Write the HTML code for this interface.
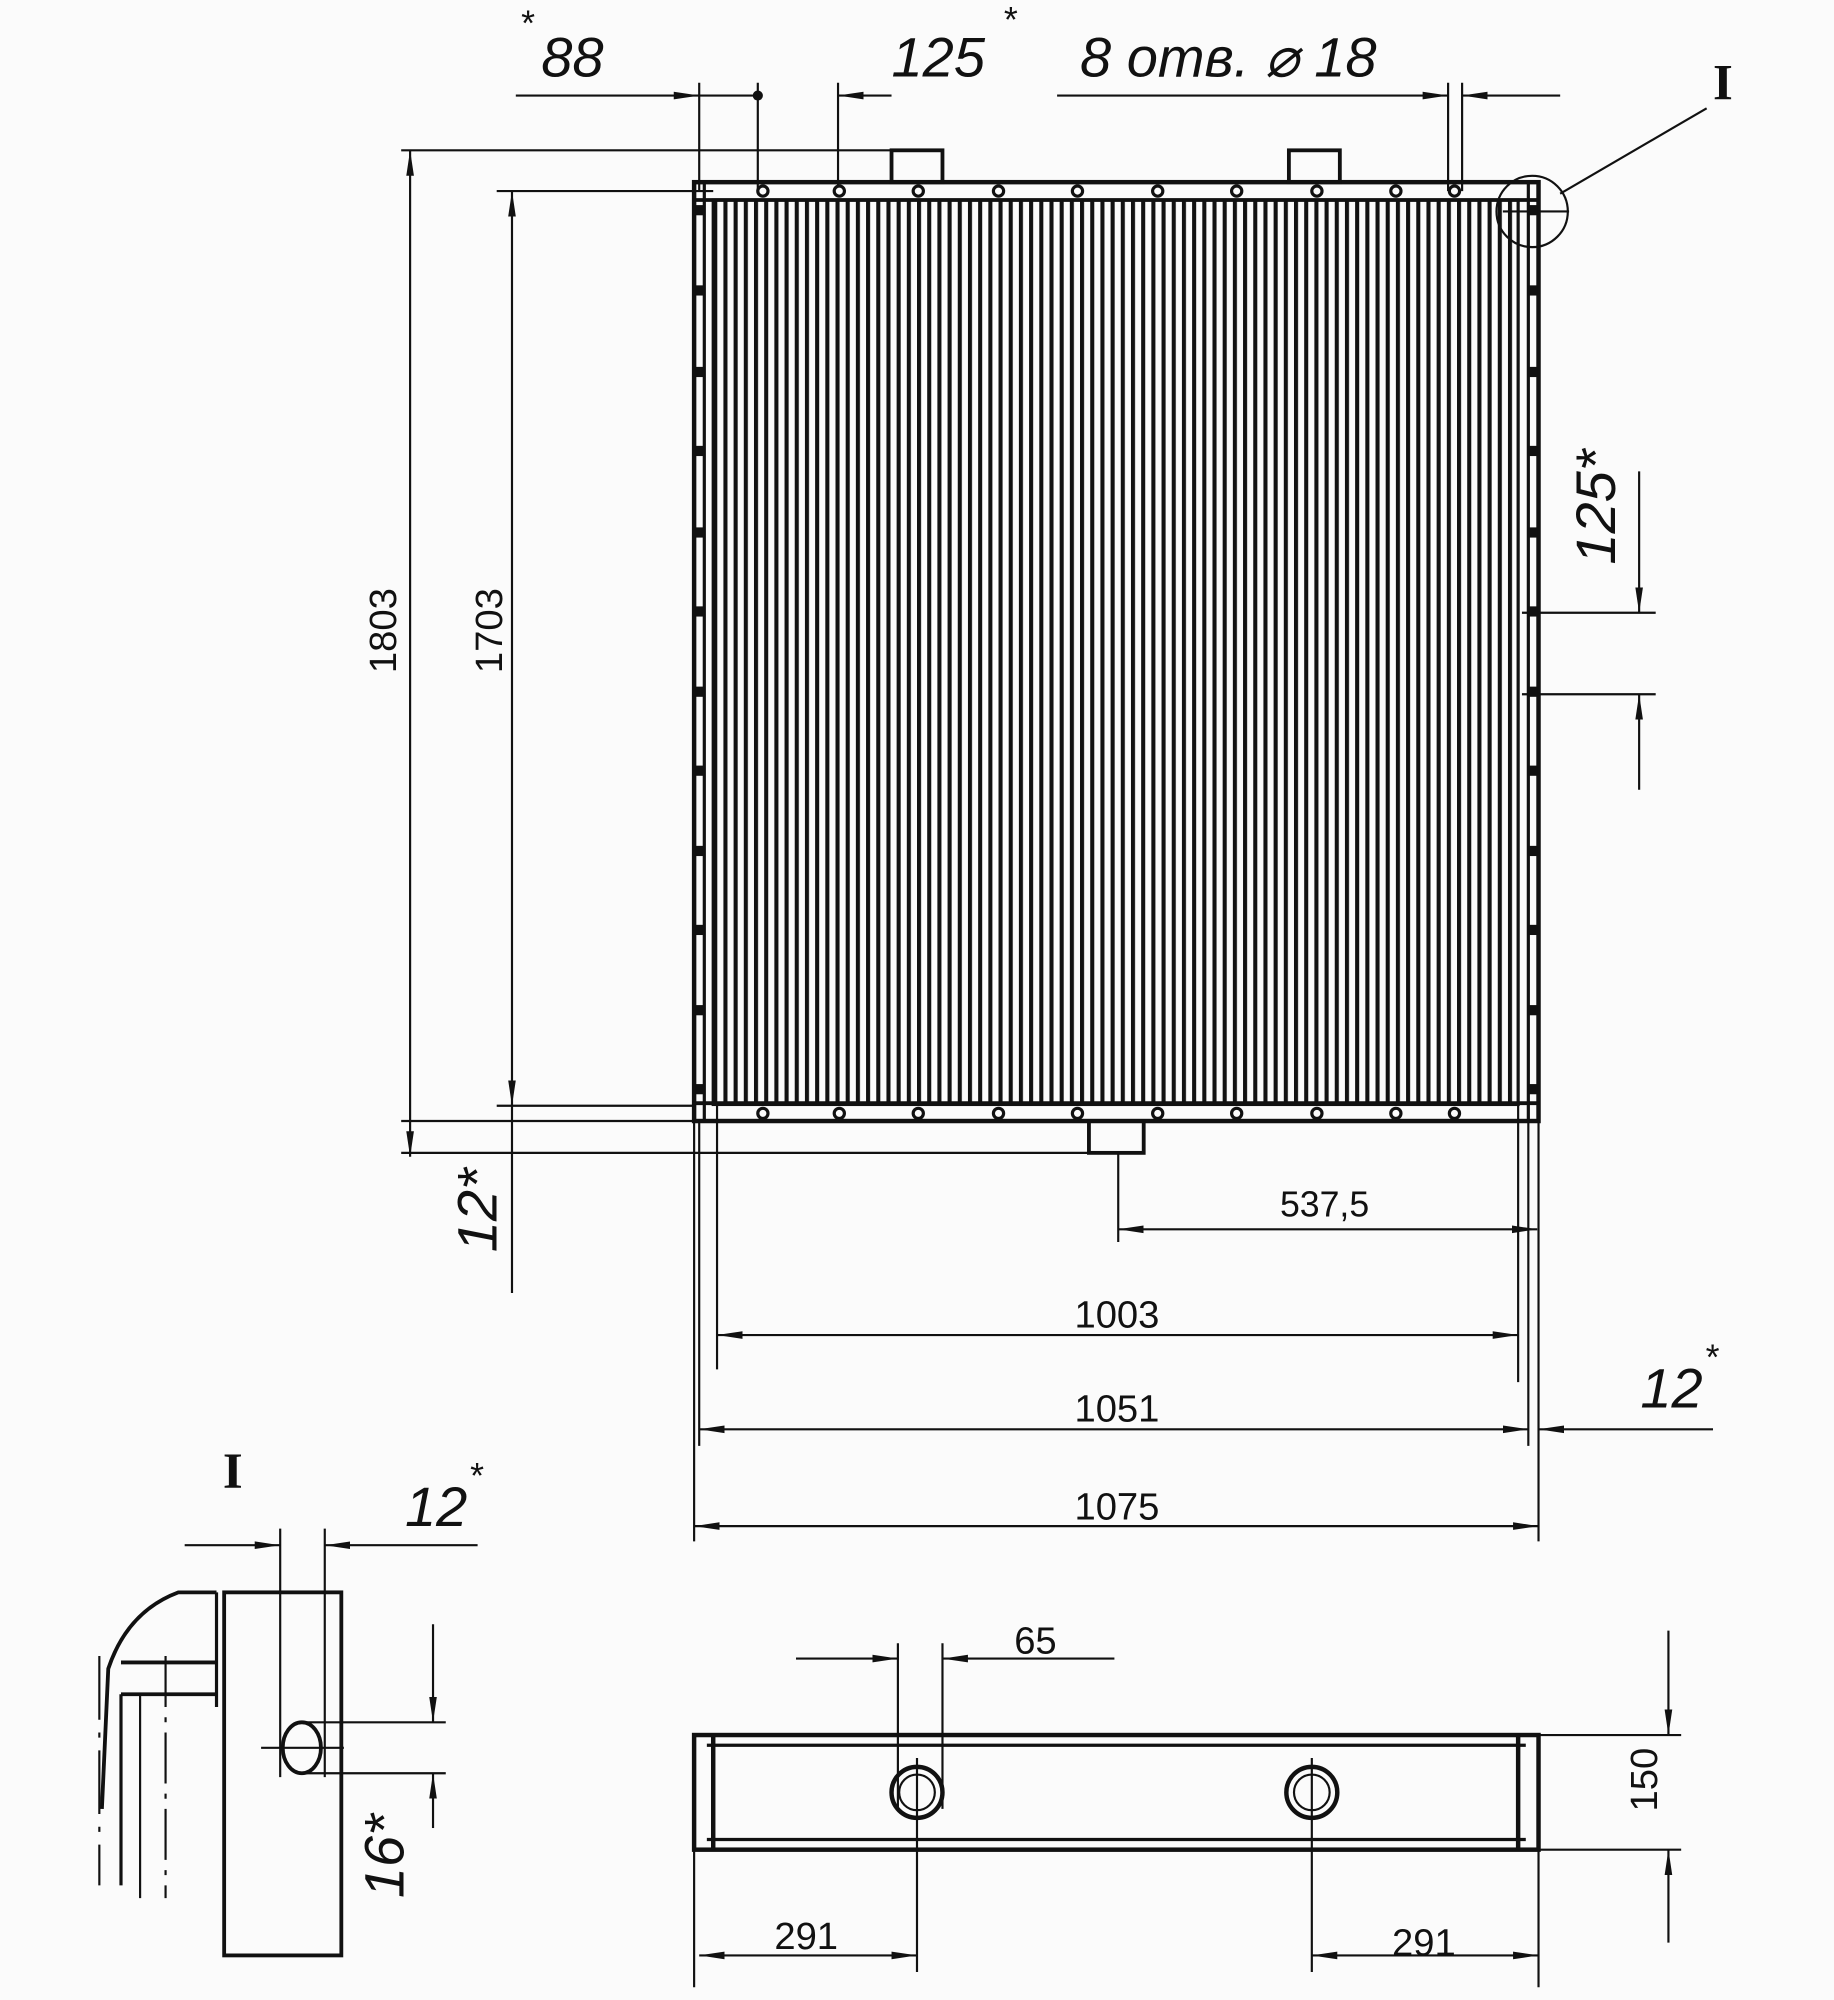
<!DOCTYPE html>
<html><head><meta charset="utf-8"><style>
html,body{margin:0;padding:0;background:#fbfbfb;}
svg{display:block}
text{font-family:"Liberation Sans",sans-serif;fill:#111}
.it{font-style:italic}
</style></head><body>
<svg width="1834" height="2000" viewBox="0 0 1440 1570" preserveAspectRatio="none" xmlns="http://www.w3.org/2000/svg">
<defs>
<pattern id="fins" x="560" y="0" width="8" height="10" patternUnits="userSpaceOnUse">
<rect x="0" y="0" width="3.2" height="10" fill="#111"/>
</pattern>
<marker id="a" viewBox="0 0 20 8" refX="20" refY="4" markerWidth="20" markerHeight="8" orient="auto-start-reverse" markerUnits="userSpaceOnUse">
<path d="M0,1 L20,4 L0,7 z" fill="#111"/>
</marker>
</defs>
<rect width="1440" height="1570" fill="#fbfbfb"/>
<g stroke="#111" fill="none" stroke-width="1.7">
<rect x="545" y="143" width="663" height="737" stroke-width="3.5"/>
<rect x="560" y="157" width="632" height="710" fill="url(#fins)" stroke-width="2.5"/>
<line x1="545" y1="157" x2="1208" y2="157" stroke-width="3"/>
<line x1="545" y1="866" x2="1208" y2="866" stroke-width="3"/>
<line x1="553" y1="143" x2="553" y2="880" stroke-width="2.5"/>
<line x1="1200" y1="143" x2="1200" y2="880" stroke-width="2.5"/>
<rect x="700" y="118" width="40" height="25" stroke-width="3"/>
<rect x="1012" y="118" width="40" height="25" stroke-width="3"/>
<rect x="855" y="880" width="43" height="25" stroke-width="3"/>
<circle cx="1203" cy="166" r="28"/>
<line x1="1225" y1="152" x2="1340" y2="85"/>
<line x1="1180" y1="166" x2="1232" y2="166"/>
<line x1="405" y1="75" x2="549" y2="75" marker-end="url(#a)"/>
<line x1="549" y1="75" x2="595" y2="75"/>
<line x1="658" y1="75" x2="700" y2="75" marker-start="url(#a)"/>
<line x1="830" y1="75" x2="1137" y2="75" marker-end="url(#a)"/>
<line x1="1148" y1="75" x2="1225" y2="75" marker-start="url(#a)"/>
<line x1="549" y1="65" x2="549" y2="150"/>
<line x1="595" y1="65" x2="595" y2="150"/>
<line x1="658" y1="65" x2="658" y2="150"/>
<line x1="1137" y1="65" x2="1137" y2="150"/>
<line x1="1148" y1="65" x2="1148" y2="150"/>
<line x1="315" y1="118" x2="740" y2="118"/>
<line x1="390" y1="150" x2="560" y2="150"/>
<line x1="390" y1="868" x2="545" y2="868"/>
<line x1="315" y1="880" x2="545" y2="880"/>
<line x1="315" y1="905" x2="860" y2="905"/>
<line x1="322" y1="118" x2="322" y2="908" marker-start="url(#a)" marker-end="url(#a)"/>
<line x1="402" y1="150" x2="402" y2="868" marker-start="url(#a)" marker-end="url(#a)"/>
<line x1="402" y1="868" x2="402" y2="1015"/>
<line x1="1195" y1="481" x2="1300" y2="481"/>
<line x1="1195" y1="545" x2="1300" y2="545"/>
<line x1="1287" y1="370" x2="1287" y2="481" marker-end="url(#a)"/>
<line x1="1287" y1="620" x2="1287" y2="545" marker-end="url(#a)"/>
<line x1="545" y1="880" x2="545" y2="1210"/>
<line x1="549" y1="880" x2="549" y2="1135"/>
<line x1="563" y1="866" x2="563" y2="1075"/>
<line x1="1192" y1="866" x2="1192" y2="1085"/>
<line x1="1200" y1="880" x2="1200" y2="1135"/>
<line x1="1208" y1="880" x2="1208" y2="1210"/>
<line x1="878" y1="905" x2="878" y2="975"/>
<line x1="878" y1="965" x2="1207" y2="965" marker-start="url(#a)" marker-end="url(#a)"/>
<line x1="563" y1="1048" x2="1192" y2="1048" marker-start="url(#a)" marker-end="url(#a)"/>
<line x1="549" y1="1122" x2="1200" y2="1122" marker-start="url(#a)" marker-end="url(#a)"/>
<line x1="1345" y1="1122" x2="1208" y2="1122" marker-end="url(#a)"/>
<line x1="545" y1="1198" x2="1208" y2="1198" marker-start="url(#a)" marker-end="url(#a)"/>
<rect x="545" y="1362" width="663" height="90" stroke-width="3.5"/>
<line x1="555" y1="1370" x2="1198" y2="1370" stroke-width="2.5"/>
<line x1="555" y1="1444" x2="1198" y2="1444" stroke-width="2.5"/>
<line x1="560" y1="1362" x2="560" y2="1452" stroke-width="3.5"/>
<line x1="1192" y1="1362" x2="1192" y2="1452" stroke-width="3.5"/>
<circle cx="720" cy="1407" r="20" stroke-width="3.5"/>
<circle cx="720" cy="1407" r="14"/>
<circle cx="1030" cy="1407" r="20" stroke-width="3.5"/>
<circle cx="1030" cy="1407" r="14"/>
<line x1="705" y1="1290" x2="705" y2="1420"/>
<line x1="740" y1="1290" x2="740" y2="1420"/>
<line x1="625" y1="1302" x2="705" y2="1302" marker-end="url(#a)"/>
<line x1="875" y1="1302" x2="740" y2="1302" marker-end="url(#a)"/>
<line x1="1208" y1="1362" x2="1320" y2="1362"/>
<line x1="1208" y1="1452" x2="1320" y2="1452"/>
<line x1="1310" y1="1280" x2="1310" y2="1362" marker-end="url(#a)"/>
<line x1="1310" y1="1525" x2="1310" y2="1452" marker-end="url(#a)"/>
<line x1="545" y1="1452" x2="545" y2="1560"/>
<line x1="720" y1="1380" x2="720" y2="1548"/>
<line x1="1030" y1="1380" x2="1030" y2="1548"/>
<line x1="1208" y1="1452" x2="1208" y2="1560"/>
<line x1="549" y1="1535" x2="720" y2="1535" marker-start="url(#a)" marker-end="url(#a)"/>
<line x1="1030" y1="1535" x2="1208" y2="1535" marker-start="url(#a)" marker-end="url(#a)"/>
<rect x="176" y="1250" width="92" height="285" stroke-width="3"/>
<line x1="170" y1="1250" x2="170" y2="1340" stroke-width="2.5"/>
<path d="M170,1250 L140,1250 Q100,1265 85,1310 L80,1420" stroke-width="3"/>
<line x1="95" y1="1305" x2="170" y2="1305" stroke-width="3"/>
<line x1="95" y1="1330" x2="170" y2="1330" stroke-width="3"/>
<line x1="95" y1="1330" x2="95" y2="1480" stroke-width="2.5"/>
<line x1="130" y1="1300" x2="130" y2="1490" stroke-dasharray="40,8,4,8"/>
<line x1="78" y1="1300" x2="78" y2="1480" stroke-dasharray="50,10,4,10"/>
<line x1="110" y1="1330" x2="110" y2="1490"/>
<ellipse cx="237" cy="1372" rx="15" ry="20" stroke-width="3"/>
<line x1="205" y1="1372" x2="270" y2="1372"/>
<line x1="220" y1="1200" x2="220" y2="1395"/>
<line x1="255" y1="1200" x2="255" y2="1395"/>
<line x1="145" y1="1213" x2="220" y2="1213" marker-end="url(#a)"/>
<line x1="375" y1="1213" x2="255" y2="1213" marker-end="url(#a)"/>
<line x1="240" y1="1352" x2="350" y2="1352"/>
<line x1="240" y1="1392" x2="350" y2="1392"/>
<line x1="340" y1="1275" x2="340" y2="1352" marker-end="url(#a)"/>
<line x1="340" y1="1435" x2="340" y2="1392" marker-end="url(#a)"/>
</g>
<g fill="#111">
<circle cx="595" cy="75" r="4"/>
<g id="lh">
<rect x="546" y="224" width="7" height="8"/><rect x="546" y="288" width="7" height="8"/><rect x="546" y="350" width="7" height="8"/><rect x="546" y="414" width="7" height="8"/><rect x="546" y="476" width="7" height="8"/><rect x="546" y="539" width="7" height="8"/><rect x="546" y="601" width="7" height="8"/><rect x="546" y="664" width="7" height="8"/><rect x="546" y="726" width="7" height="8"/><rect x="546" y="789" width="7" height="8"/><rect x="546" y="851" width="7" height="8"/><rect x="546" y="161" width="7" height="8"/>
</g>
<use href="#lh" x="654"/>
</g>
<g fill="#fbfbfb" stroke="#111" stroke-width="2.5">
<g id="th">
<circle cx="599" cy="150" r="4"/><circle cx="659" cy="150" r="4"/><circle cx="721" cy="150" r="4"/><circle cx="784" cy="150" r="4"/><circle cx="846" cy="150" r="4"/><circle cx="909" cy="150" r="4"/><circle cx="971" cy="150" r="4"/><circle cx="1034" cy="150" r="4"/><circle cx="1096" cy="150" r="4"/><circle cx="1142" cy="150" r="4"/>
</g>
<use href="#th" y="724"/>
</g>
<g font-size="30">
<text x="300" y="506" text-anchor="middle" transform="rotate(-90 300 495)">1803</text>
<text x="383" y="506" text-anchor="middle" transform="rotate(-90 383 495)">1703</text>
<text x="1040" y="955" text-anchor="middle" font-size="28">537,5</text>
<text x="877" y="1042" text-anchor="middle">1003</text>
<text x="877" y="1116" text-anchor="middle">1051</text>
<text x="877" y="1193" text-anchor="middle">1075</text>
<text x="813" y="1298" text-anchor="middle">65</text>
<text x="633" y="1530" text-anchor="middle">291</text>
<text x="1118" y="1535" text-anchor="middle">291</text>
<text x="1303" y="1415" text-anchor="middle" transform="rotate(-90 1293 1407)">150</text>
</g>
<g font-size="44" class="it">
<text x="425" y="60" class="it">88</text><text x="408" y="28" font-size="28">*</text>
<text x="700" y="60" class="it">125</text><text x="787" y="25" font-size="28">*</text>
<text x="848" y="60" class="it">8 отв. ⌀ 18</text>
<text x="1288" y="1105" class="it">12</text><text x="1338" y="1075" font-size="28">*</text>
<text x="318" y="1198" class="it">12</text><text x="368" y="1168" font-size="28">*</text>
<text x="380" y="970" class="it" transform="rotate(-90 375 955)" text-anchor="middle">12*</text>
<text x="1262" y="418" class="it" transform="rotate(-90 1255 405)" text-anchor="middle">125*</text>
<text x="318" y="1482" class="it" transform="rotate(-90 305 1470)" text-anchor="middle">16*</text>
</g>
<g font-weight="bold" font-size="40">
<text x="1345" y="78" style="font-family:'Liberation Serif',serif">I</text>
<text x="175" y="1168" style="font-family:'Liberation Serif',serif">I</text>
</g>
</svg>
</body></html>
